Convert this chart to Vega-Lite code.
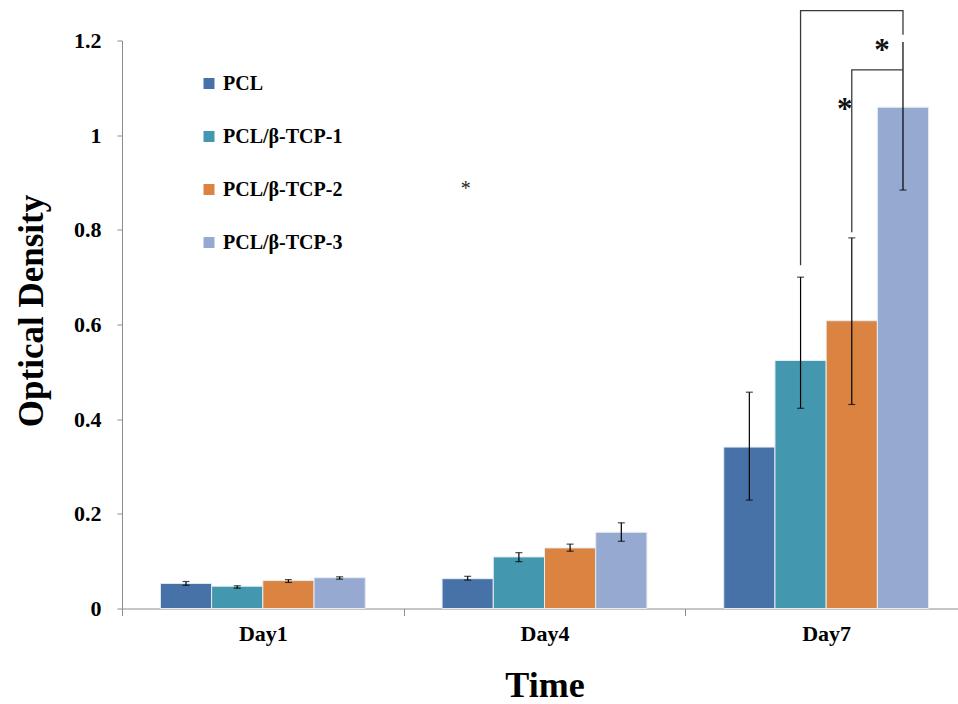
{
  "$schema": "https://vega.github.io/schema/vega-lite/v6.json",
  "autosize": "none",
  "width": 836,
  "height": 568,
  "padding": {"left": 122, "top": 40.5, "right": 0, "bottom": 95.5},
  "background": "white",
  "config": {
    "view": {"stroke": null},
    "font": "Liberation Serif",
    "axis": {"labelFont": "Liberation Serif", "titleFont": "Liberation Serif", "labelFontWeight": "bold", "titleFontWeight": "bold", "labelColor": "black", "titleColor": "black", "domainColor": "#8c8c8c", "tickColor": "#8c8c8c", "grid": false},
    "legend": {"labelFont": "Liberation Serif", "labelFontWeight": "bold"}
  },
  "datasets": {
    "bars": [
      {"day": "Day1", "group": "PCL", "od": 0.053, "lo": 0.049, "hi": 0.057},
      {"day": "Day1", "group": "PCL/β-TCP-1", "od": 0.047, "lo": 0.043, "hi": 0.048},
      {"day": "Day1", "group": "PCL/β-TCP-2", "od": 0.059, "lo": 0.055, "hi": 0.061},
      {"day": "Day1", "group": "PCL/β-TCP-3", "od": 0.065, "lo": 0.062, "hi": 0.067},
      {"day": "Day4", "group": "PCL", "od": 0.063, "lo": 0.060, "hi": 0.068},
      {"day": "Day4", "group": "PCL/β-TCP-1", "od": 0.109, "lo": 0.099, "hi": 0.118},
      {"day": "Day4", "group": "PCL/β-TCP-2", "od": 0.128, "lo": 0.121, "hi": 0.136},
      {"day": "Day4", "group": "PCL/β-TCP-3", "od": 0.161, "lo": 0.142, "hi": 0.181},
      {"day": "Day7", "group": "PCL", "od": 0.341, "lo": 0.229, "hi": 0.457},
      {"day": "Day7", "group": "PCL/β-TCP-1", "od": 0.524, "lo": 0.423, "hi": 0.700},
      {"day": "Day7", "group": "PCL/β-TCP-2", "od": 0.608, "lo": 0.431, "hi": 0.783},
      {"day": "Day7", "group": "PCL/β-TCP-3", "od": 1.059, "lo": 0.884, "hi": 1.197}
    ],
    "brackets": [
      {"id": "a", "seq": 1, "day": "Day7", "group": "PCL/β-TCP-1", "od": 0.725},
      {"id": "a", "seq": 2, "day": "Day7", "group": "PCL/β-TCP-1", "od": 1.263},
      {"id": "a", "seq": 3, "day": "Day7", "group": "PCL/β-TCP-3", "od": 1.263},
      {"id": "a", "seq": 4, "day": "Day7", "group": "PCL/β-TCP-3", "od": 1.212},
      {"id": "b", "seq": 1, "day": "Day7", "group": "PCL/β-TCP-2", "od": 0.795},
      {"id": "b", "seq": 2, "day": "Day7", "group": "PCL/β-TCP-2", "od": 1.138},
      {"id": "b", "seq": 3, "day": "Day7", "group": "PCL/β-TCP-3", "od": 1.138}
    ]
  },
  "encoding": {
    "x": {"field": "day", "type": "nominal", "sort": ["Day1", "Day4", "Day7"],
      "scale": {"domain": ["Day1", "Day4", "Day7"], "range": [0, 845], "paddingInner": 0, "paddingOuter": 0},
      "axis": {"title": "Time", "labelAngle": 0, "labelFontSize": 22, "titleFontSize": 36, "tickBand": "extent", "tickSize": 7, "labelPadding": 8, "titlePadding": 24}},
    "xOffset": {"field": "group", "type": "nominal",
      "scale": {"domain": ["PCL", "PCL/β-TCP-1", "PCL/β-TCP-2", "PCL/β-TCP-3"], "paddingInner": 0, "paddingOuter": 0.75}},
    "y": {"field": "od", "type": "quantitative",
      "scale": {"domain": [0, 1.2], "nice": false, "zero": true},
      "axis": {"title": "Optical Density", "values": [0, 0.2, 0.4, 0.6, 0.8, 1, 1.2], "format": "~g", "labelFontSize": 22, "titleFontSize": 35, "tickSize": 5, "labelPadding": 16, "titlePadding": 24, "titleY": 270}}
  },
  "layer": [
    {
      "data": {"name": "bars"},
      "mark": {"type": "bar", "stroke": "#e6ecf4", "strokeWidth": 1},
      "encoding": {
        "color": {"field": "group", "type": "nominal",
          "scale": {"domain": ["PCL", "PCL/β-TCP-1", "PCL/β-TCP-2", "PCL/β-TCP-3"], "range": ["#4672a7", "#4397af", "#db8441", "#96aad1"]},
          "legend": {"title": null, "orient": "none", "legendX": 77, "legendY": 33, "symbolType": "square", "symbolSize": 121, "symbolStrokeWidth": 0, "labelFontSize": 20, "labelOffset": 4, "rowPadding": 33, "padding": 0}}
      }
    },
    {
      "data": {"name": "bars"},
      "mark": {"type": "rule", "color": "black", "strokeWidth": 1.2},
      "encoding": {"y": {"field": "lo", "type": "quantitative"}, "y2": {"field": "hi"}}
    },
    {
      "data": {"name": "bars"},
      "mark": {"type": "tick", "color": "black", "thickness": 1.2, "size": 7, "orient": "horizontal"},
      "encoding": {"y": {"field": "lo", "type": "quantitative"}}
    },
    {
      "data": {"name": "bars"},
      "transform": [{"filter": "datum.hi < 1.19"}],
      "mark": {"type": "tick", "color": "black", "thickness": 1.2, "size": 7, "orient": "horizontal"},
      "encoding": {"y": {"field": "hi", "type": "quantitative"}}
    },
    {
      "data": {"name": "brackets"},
      "mark": {"type": "line", "color": "#3a3a3a", "strokeWidth": 1.3, "clip": false},
      "encoding": {"detail": {"field": "id"}, "order": {"field": "seq", "type": "quantitative"}}
    },
    {
      "data": {"values": [{"day": "Day7", "group": "PCL/β-TCP-3", "od": 1.159, "label": "*"}]},
      "mark": {"type": "text", "fontSize": 31, "fontWeight": "bold", "dx": -21, "baseline": "alphabetic", "color": "#111"},
      "encoding": {"text": {"field": "label"}}
    },
    {
      "data": {"values": [{"day": "Day7", "group": "PCL/β-TCP-2", "od": 1.034, "label": "*"}]},
      "mark": {"type": "text", "fontSize": 31, "fontWeight": "bold", "dx": -7, "baseline": "alphabetic", "color": "#111"},
      "encoding": {"text": {"field": "label"}}
    },
    {
      "data": {"values": [{"day": "Day4", "group": "PCL", "od": 0.874, "label": "*"}]},
      "mark": {"type": "text", "fontSize": 20, "dx": -2, "baseline": "alphabetic", "color": "#222"},
      "encoding": {"text": {"field": "label"}}
    }
  ]
}
